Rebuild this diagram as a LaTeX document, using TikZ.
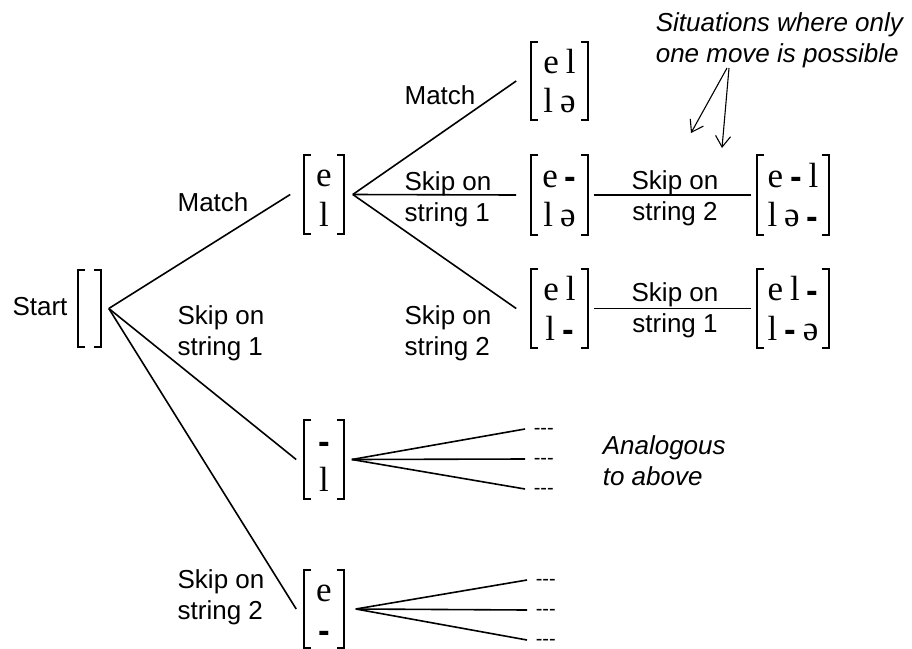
\documentclass[tikz,border=0pt]{standalone}
\usepackage{fontspec}
\setmainfont{Liberation Sans}
\setsansfont{Liberation Sans}
\newfontfamily\matf{Liberation Serif}
\usetikzlibrary{arrows.meta}
\newcommand\gp{\raisebox{-1.5pt}{\sffamily\bfseries -}}
\newcommand\matfont{\fontsize{35}{40}\selectfont\matf\spaceskip 0.2em\relax}
\newcommand\mx[2]{\def\arraystretch{0.1}%
  \begin{tabular}{@{}c@{}}\rule{0pt}{31pt}#1\\\rule[-7pt]{0pt}{45pt}#2\end{tabular}}
\newcommand\brkt[1]{%
  \draw[brk] ([xshift=7pt]#1.north west) -| (#1.south west) -- ++(7pt,0);
  \draw[brk] ([xshift=-7pt]#1.north east) -| (#1.south east) -- ++(-7pt,0);}
\begin{document}
\begin{tikzpicture}[x=1pt,y=-1pt,line width=1.6pt,
  font=\fontsize{26}{31}\selectfont,
  mat/.style={inner sep=0pt,minimum height=76pt,font=\matfont},
  brk/.style={line width=2pt},
  lbl/.style={align=left,inner sep=0pt},
  ital/.style={align=left,inner sep=0pt,anchor=west,
    font=\fontsize{26}{31}\selectfont\itshape},
  dd/.style={anchor=west,inner sep=0pt,font=\fontsize{20}{20}\selectfont,
    text height=10.8pt,text depth=0pt},
  arr/.style={line width=1.1pt,-{Straight Barb[length=11pt,width=15pt]}}]
\useasboundingbox (0,0) rectangle (912,648);
% matrices
\node[mat,minimum width=21pt,minimum height=75pt] (st) at (89.5,308.5) {};
\node[mat,minimum width=38pt] (el) at (324,194.5) {\mx{e}{l}};
\node[mat,minimum width=55pt] (top) at (559.5,81) {\mx{e l}{l ə}};
\node[mat,minimum width=55pt] (mid) at (559.5,195) {\mx{e \gp}{l ə}};
\node[mat,minimum width=55pt] (bot) at (559.5,308.5) {\mx{e l}{l \gp}};
\node[mat,minimum width=70pt] (r1) at (793,195) {\mx{e \gp{} l}{l ə \gp}};
\node[mat,minimum width=70pt] (r2) at (793,308.5) {\mx{e l \gp}{l \gp{} ə}};
\node[mat,minimum width=38pt] (dl) at (324,459.5) {\mx{\gp}{l}};
\node[mat,minimum width=38pt,minimum height=74pt] (ed) at (324,609) {\mx{e}{\gp}};
\brkt{st}\brkt{el}\brkt{top}\brkt{mid}\brkt{bot}\brkt{r1}\brkt{r2}\brkt{dl}\brkt{ed}
% labels
\node (start) at (40,307) {Start};
\node (m1) at (213,202) {Match};
\node (m2) at (440,95) {Match};
\node[lbl] (s11) at (221,333) {Skip on\\string 1};
\node[lbl] (s12) at (221,597) {Skip on\\string 2};
\node[lbl] (s21) at (448,199) {Skip on\\string 1};
\node[lbl] (s22) at (448,333) {Skip on\\string 2};
\node[lbl,align=center] (s32) at (675,198) {Skip on\\string 2};
\node[lbl,align=center] (s31) at (675,310) {Skip on\\string 1};
\node[ital] (sit) at (655,40) {Situations where only\\one move is possible};
\node[ital] (ana) at (602,461) {Analogous\\to above};
% dots
\node[dd] (d1) at (533,429) {-\kern0pt-\kern0pt-};
\node[dd] (d2) at (533,459) {-\kern0pt-\kern0pt-};
\node[dd] (d3) at (533,489) {-\kern0pt-\kern0pt-};
\node[dd] (e1) at (535,580) {-\kern0pt-\kern0pt-};
\node[dd] (e2) at (535,610) {-\kern0pt-\kern0pt-};
\node[dd] (e3) at (535,640) {-\kern0pt-\kern0pt-};
% connectors
\coordinate (root) at ([xshift=8pt]st.east);
\draw (root) -- ([xshift=-14pt]el.west);
\draw (root) -- ([xshift=-8pt]dl.west);
\draw (root) -- ([xshift=-8pt]ed.west);
\coordinate (b1) at ([xshift=9pt]el.east);
\draw (b1) -- ([xshift=-15pt]top.west);
\draw (b1) -- ([xshift=-15pt]mid.west);
\draw (b1) -- ([xshift=-15pt]bot.west);
\draw ([xshift=6pt]mid.east) -- ([xshift=-6pt]r1.west);
\draw ([xshift=6pt]bot.east) -- ([xshift=-6pt]r2.west);
\coordinate (f1) at ([xshift=8pt]dl.east);
\draw (f1) -- ([xshift=-8pt]d1.west);
\draw (f1) -- ([xshift=-8pt]d2.west);
\draw (f1) -- ([xshift=-8pt]d3.west);
\coordinate (f2) at ([xshift=12pt]ed.east);
\draw (f2) -- ([xshift=-8pt]e1.west);
\draw (f2) -- ([xshift=-8pt]e2.west);
\draw (f2) -- ([xshift=-8pt]e3.west);
% arrows
\coordinate (a1) at (727,68);
\coordinate (a2) at (729,68);
\coordinate (t1) at (691,133);
\coordinate (t2) at (722,148);
\draw[arr] (a1) -- (t1);
\draw[arr] (a2) -- (t2);
\end{tikzpicture}
\end{document}
